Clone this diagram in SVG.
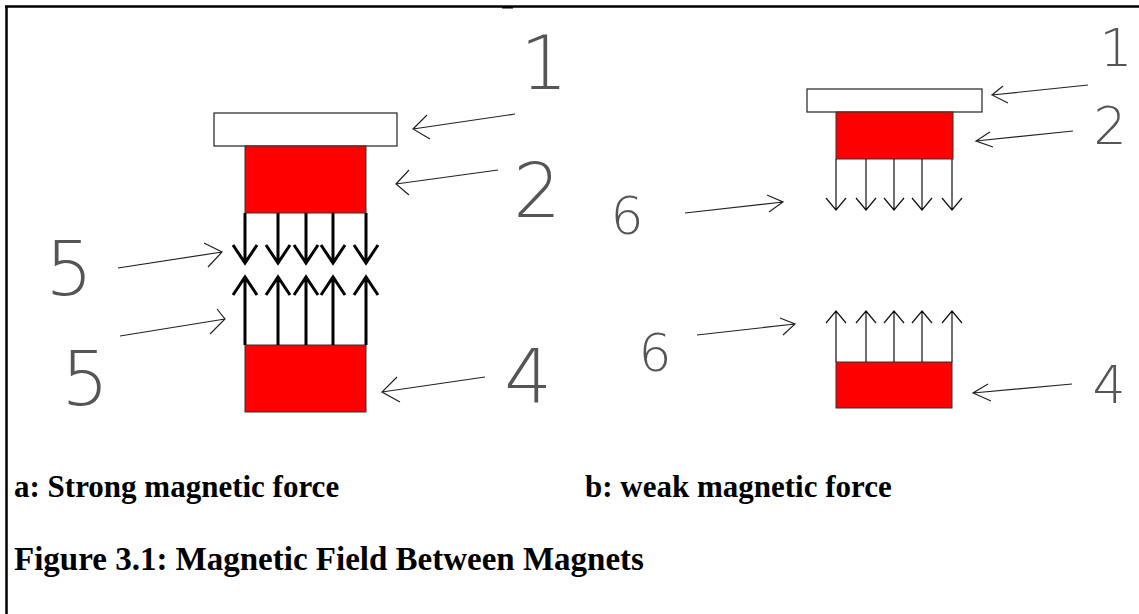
<svg xmlns="http://www.w3.org/2000/svg" width="1139" height="614" viewBox="0 0 1139 614">
<style>
.frame{stroke:#000;stroke-width:2.5;fill:none}
.plate{fill:#fff;stroke:#222;stroke-width:1.2}
.mag{fill:#ff0000;stroke:#333;stroke-width:1}
.thick{stroke:#000;stroke-width:3;fill:none;stroke-linejoin:miter}
.thin{stroke:#111;stroke-width:1.2;fill:none}
.lbl{stroke:#222;stroke-width:1.2;fill:none}
.digitL{font-family:"DejaVu Sans",sans-serif;font-weight:200;font-size:75px;fill:#555;text-anchor:middle}
.digitS{font-family:"DejaVu Sans",sans-serif;font-weight:200;font-size:52px;fill:#555;text-anchor:middle}
.cap{font-family:"Liberation Serif","Times New Roman",serif;font-weight:bold;font-size:31px;fill:#000}
.fig{font-size:33px}
</style>
<rect width="1139" height="614" fill="#fff"/>
<g id="frame">
<path class="frame" d="M5 6.5 H1139 M6.5 5.5 V614"/>
<path d="M502 7.5 H513" stroke="#000" stroke-width="2"/>
</g>

<g id="strong-magnets">
<rect id="a-plate" class="plate" x="214" y="113" width="183" height="33"/>
<rect id="a-magnet-top" class="mag" x="245" y="146" width="121" height="67"/>
<rect id="a-magnet-bottom" class="mag" x="245" y="345" width="121" height="67"/>
</g>
<g id="strong-field">
<path class="thick" d="M245 213 V263 M233 245 L245 263 L257 245"/>
<path class="thick" d="M278 213 V263 M266 245 L278 263 L290 245"/>
<path class="thick" d="M306 213 V263 M294 245 L306 263 L318 245"/>
<path class="thick" d="M333 213 V263 M321 245 L333 263 L345 245"/>
<path class="thick" d="M366 213 V263 M354 245 L366 263 L378 245"/>
<path class="thick" d="M245 345 V277 M233 295 L245 277 L257 295"/>
<path class="thick" d="M278 345 V277 M266 295 L278 277 L290 295"/>
<path class="thick" d="M306 345 V277 M294 295 L306 277 L318 295"/>
<path class="thick" d="M333 345 V277 M321 295 L333 277 L345 295"/>
<path class="thick" d="M366 345 V277 M354 295 L366 277 L378 295"/>
</g>

<g id="weak-magnets">
<rect id="b-plate" class="plate" x="807" y="89" width="175" height="23"/>
<rect id="b-magnet-top" class="mag" x="836" y="112" width="117" height="47"/>
<rect id="b-magnet-bottom" class="mag" x="836" y="362" width="116" height="46"/>
</g>
<g id="weak-field">
<path class="thin" d="M836 159 V210 M826 198 L836 210 L846 198"/>
<path class="thin" d="M866 159 V210 M856 198 L866 210 L876 198"/>
<path class="thin" d="M894 159 V210 M884 198 L894 210 L904 198"/>
<path class="thin" d="M922 159 V210 M912 198 L922 210 L932 198"/>
<path class="thin" d="M952 159 V210 M942 198 L952 210 L962 198"/>
<path class="thin" d="M836 362 V311 M826 323 L836 311 L846 323"/>
<path class="thin" d="M866 362 V311 M856 323 L866 311 L876 323"/>
<path class="thin" d="M894 362 V311 M884 323 L894 311 L904 323"/>
<path class="thin" d="M922 362 V311 M912 323 L922 311 L932 323"/>
<path class="thin" d="M952 362 V311 M942 323 L952 311 L962 323"/>
</g>

<g id="connectors">
<path class="lbl" d="M515 114 L413 129 M427 115 L413 129 L430 139"/>
<path class="lbl" d="M498 170 L396 184 M409 170 L396 184 L409 195"/>
<path class="lbl" d="M118 268 L222 252 M204 243 L222 252 L208 267"/>
<path class="lbl" d="M120 336 L225 319 M217 309 L225 319 L210 334"/>
<path class="lbl" d="M485 377 L382 392 M397 377 L382 392 L400 402"/>
<path class="lbl" d="M1088 85 L992 95 M1003 86 L992 95 L1008 103"/>
<path class="lbl" d="M1073 131 L976 141 M990 132 L976 141 L993 147"/>
<path class="lbl" d="M685 213 L783 202 M767 195 L783 202 L769 212"/>
<path class="lbl" d="M697 335 L795 324 M780 318 L795 324 L783 335"/>
<path class="lbl" d="M1072 384 L973 393 M988 384 L973 393 L991 401"/>
</g>

<g id="labels">
<text class="digitL" x="544" y="89">1</text>
<text class="digitL" x="537" y="217">2</text>
<text class="digitL" x="69" y="295">5</text>
<text class="digitL" x="85" y="405">5</text>
<text class="digitL" x="528" y="403">4</text>
<text class="digitS" x="1116" y="66">1</text>
<text class="digitS" x="1110" y="144">2</text>
<text class="digitS" x="627" y="234">6</text>
<text class="digitS" x="655" y="371">6</text>
<text class="digitS" x="1109" y="403">4</text>
</g>

<g id="captions">
<text class="cap" x="14" y="497">a: Strong magnetic force</text>
<text class="cap" x="585" y="497">b: weak magnetic force</text>
<text class="cap fig" x="14" y="570">Figure 3.1: Magnetic Field Between Magnets</text>
</g>
</svg>
